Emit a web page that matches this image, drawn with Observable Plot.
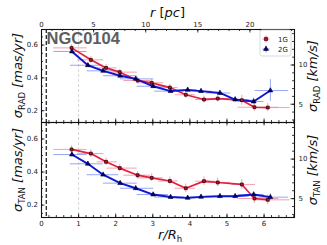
<!DOCTYPE html>
<html><head><meta charset="utf-8">
<script src="https://cdn.jsdelivr.net/npm/d3@7"></script>
<script src="https://cdn.jsdelivr.net/npm/@observablehq/plot@0.6"></script>
<style>
body{margin:0;background:#fff;}
#chart{position:relative;width:327px;height:245px;font-family:"DejaVu Sans",sans-serif;background:#fff;}
#chart svg{position:absolute;left:0;overflow:visible;background:transparent;}
</style></head><body><div id="chart"></div>
<script>
// ---- data ----
const r1G   = [0.81,1.33,1.74,2.11,2.59,2.97,3.46,3.89,4.38,4.75,5.40,5.74,6.10];
const lo1G  = [0.33,0.98,1.50,1.77,2.22,2.58,3.15,3.60,4.15,4.45,5.13,5.30,5.80];
const hi1G  = [1.23,1.68,2.04,2.58,2.94,3.29,3.68,4.15,4.69,5.10,5.77,6.40,6.70];
const rad1G = [0.583,0.510,0.461,0.435,0.384,0.370,0.341,0.297,0.268,0.274,0.264,0.221,0.219];
const radE1G= [0.020,0.022,0.020,0.018,0.020,0.020,0.020,0.022,0.022,0.022,0.030,0.025,0.025];
const tan1G = [0.537,0.512,0.462,0.424,0.381,0.365,0.346,0.302,0.345,0.337,0.325,0.240,0.232];
const tanE1G= [0.022,0.022,0.022,0.022,0.022,0.024,0.024,0.026,0.026,0.026,0.030,0.030,0.030];

const r2G   = [0.82,1.25,1.66,2.12,2.54,3.01,3.48,3.94,4.30,4.81,5.22,5.72,6.17];
const lo2G  = [0.33,0.78,1.23,1.67,2.13,2.58,3.05,3.65,4.00,4.45,4.95,5.30,5.76];
const hi2G  = [1.23,1.67,2.08,2.58,3.03,3.42,3.85,4.20,4.60,5.10,5.60,6.00,6.66];
const rad2G = [0.561,0.477,0.443,0.413,0.394,0.349,0.319,0.327,0.319,0.308,0.268,0.256,0.323];
const radE2G= [0.012,0.012,0.012,0.012,0.012,0.012,0.012,0.014,0.014,0.016,0.018,0.020,0.066];
const tan2G = [0.506,0.450,0.384,0.333,0.302,0.264,0.249,0.244,0.250,0.254,0.254,0.264,0.248];
const tanE2G= [0.010,0.010,0.010,0.010,0.010,0.010,0.010,0.012,0.012,0.014,0.014,0.016,0.020];

const groups = ["1G","2G"];
const clusterName = "NGC0104";
const xTicks = [0,1,2,3,4,5,6];
const yTicks = [0.2,0.4,0.6];
const kmTicks = [5,10];
const pcTicks = [0,5,10,15,20];
const Rh_pc = 3.56;      // half-light radius in pc
const KMS = 20.9;        // km/s per mas/yr
const rCore = 0.13;      // black dashed line
const rOne = 1;          // grey dashed line

// ---- helpers ----
const RED = "#e2203f", RED_E = "#f38a9c", BLUE = "#0d17d2", BLUE_E = "#8190f2";
const W = 327, ML = 41, MR = 33, innerW = W - ML - MR;
const xDomain = [0, 6.82];

function rows(r, lo, hi, v, e) { return r.map((d, i) => ({r: d, lo: lo[i], hi: hi[i], v: v[i], e: e[i]})); }

function inwardTicks(innerH, withTop) {
  const majL = 3.5, minL = 2;
  const xMinor = d3.range(0, 6.81, 0.2);
  const yMinor = d3.range(0.15, 0.70, 0.05);
  const kmMinor = d3.range(3, 15, 1).map(v => v / KMS);
  const st = {stroke: "#111", strokeWidth: 0.8};
  const m = [
    Plot.ruleX(xTicks, {...st, insetTop: innerH - majL}),
    Plot.ruleX(xMinor, {...st, insetTop: innerH - minL}),
    Plot.ruleY(yTicks, {...st, insetRight: innerW - majL}),
    Plot.ruleY(yMinor, {...st, insetRight: innerW - minL}),
    Plot.ruleY(kmTicks.map(v => v / KMS), {...st, insetLeft: innerW - majL}),
    Plot.ruleY(kmMinor, {...st, insetLeft: innerW - minL}),
  ];
  if (withTop) {
    m.push(Plot.ruleX(pcTicks.map(p => p / Rh_pc), {...st, insetBottom: innerH - majL}));
    m.push(Plot.ruleX(d3.range(0, 25, 1).map(p => p / Rh_pc).filter(x => x <= 6.82), {...st, insetBottom: innerH - minL}));
  } else {
    m.push(Plot.ruleX(xTicks, {...st, insetBottom: innerH - majL}));
    m.push(Plot.ruleX(xMinor, {...st, insetBottom: innerH - minL}));
  }
  return m;
}

function seriesMarks(d1, d2) {
  return [
    Plot.ruleY(d1, {y: "v", x1: "lo", x2: "hi", stroke: RED_E, strokeWidth: 1, strokeOpacity: 0.8}),
    Plot.ruleX(d1, {x: "r", y1: d => d.v - d.e, y2: d => d.v + d.e, stroke: RED_E, strokeWidth: 1, strokeOpacity: 0.8}),
    Plot.ruleY(d2, {y: "v", x1: "lo", x2: "hi", stroke: BLUE_E, strokeWidth: 1, strokeOpacity: 0.8}),
    Plot.ruleX(d2, {x: "r", y1: d => d.v - d.e, y2: d => d.v + d.e, stroke: BLUE_E, strokeWidth: 1, strokeOpacity: 0.8}),
    Plot.line(d1, {x: "r", y: "v", stroke: RED, strokeWidth: 1.7}),
    Plot.line(d2, {x: "r", y: "v", stroke: BLUE, strokeWidth: 1.9}),
    Plot.dot(d1, {x: "r", y: "v", symbol: "square", r: 1.6, fill: "#c8102e", stroke: "#2a0008", strokeWidth: 0.8}),
    Plot.dot(d2, {x: "r", y: "v", symbol: "triangle", r: 1.8, fill: "#000070", stroke: "#000030", strokeWidth: 0.6}),
  ];
}

function axisTitle(svg, x, y, rot, base, sub, rest) {
  const t = d3.select(svg).append("text")
    .attr("transform", `translate(${x},${y}) rotate(${rot})`)
    .attr("text-anchor", "middle")
    .attr("font-family", "DejaVu Sans, sans-serif")
    .attr("font-size", 13).attr("fill", "#111");
  t.append("tspan").attr("font-style", "italic").text(base);
  if (sub) t.append("tspan").attr("font-size", 8.5).attr("dy", 3).text(sub);
  t.append("tspan").attr("dy", sub ? -3 : 0).attr("font-style", "italic").text(rest);
  return t;
}

const chart = document.getElementById("chart");
const style = {fontFamily: "DejaVu Sans, sans-serif", fontSize: "7px", color: "#222", background: "transparent", overflow: "visible"};

// ---- top panel (RAD) ----
{
  const H = 122, MT = 29, MB = 0, innerH = H - MT - MB;
  const p = Plot.plot({
    width: W, height: H, marginTop: MT, marginBottom: MB, marginLeft: ML, marginRight: MR,
    x: {domain: xDomain}, y: {domain: [0.128, 0.695]}, style,
    marks: [
      Plot.ruleX([rOne], {stroke: "#d4d4d4", strokeWidth: 1, strokeDasharray: "3,2"}),
      Plot.ruleX([rCore], {stroke: "#333", strokeWidth: 1.4, strokeDasharray: "4,2"}),
      ...seriesMarks(rows(r1G, lo1G, hi1G, rad1G, radE1G), rows(r2G, lo2G, hi2G, rad2G, radE2G)),
      ...inwardTicks(innerH, true),
      Plot.frame({stroke: "#111", strokeWidth: 1.1}),
      Plot.axisX(pcTicks.map(p => p / Rh_pc), {anchor: "top", tickSize: 0, tickPadding: 3, tickFormat: d => Math.round(d * Rh_pc), label: null}),
      Plot.axisY(yTicks, {anchor: "left", tickSize: 0, tickPadding: 3.5, tickFormat: d3.format(".1f"), label: null}),
      Plot.axisY(kmTicks.map(v => v / KMS), {anchor: "right", tickSize: 0, tickPadding: 4, tickFormat: d => Math.round(d * KMS), label: null}),
    ]
  });
  p.style.top = "0px";
  chart.appendChild(p);
  const s = d3.select(p);
  s.append("text").attr("x", 46.5).attr("y", 44).attr("text-anchor", "start")
    .attr("font-family", "Liberation Sans, Arial, sans-serif")
    .attr("font-weight", "bold").attr("font-size", 16.5).attr("fill", "#5e5e5e").text(clusterName);
  const tt = s.append("text").attr("x", 167.5).attr("y", 17).attr("text-anchor", "middle")
    .attr("font-family", "DejaVu Sans, sans-serif").attr("font-size", 13).attr("fill", "#111");
  tt.append("tspan").attr("font-style", "italic").text("r");
  tt.append("tspan").text(" [");
  tt.append("tspan").attr("font-style", "italic").text("pc");
  tt.append("tspan").text("]");
  axisTitle(p, 22, 75.5, -90, "σ", "RAD", " [mas/yr]");
  axisTitle(p, 317, 76, -90, "σ", "RAD", " [km/s]");
  // legend
  const lg = s.append("g");
  lg.append("rect").attr("x", 260).attr("y", 30).attr("width", 31).attr("height", 26).attr("rx", 2)
    .attr("fill", "#fff").attr("stroke", "#d0d0d0").attr("stroke-width", 0.8);
  const items = [{g: groups[0], y: 39, c: RED_E, f: "#c8102e", s: "#2a0008", sym: d3.symbolSquare},
                 {g: groups[1], y: 49, c: BLUE_E, f: "#000070", s: "#000030", sym: d3.symbolTriangle}];
  for (const it of items) {
    lg.append("line").attr("x1", 262.5).attr("x2", 269.5).attr("y1", it.y).attr("y2", it.y).attr("stroke", it.c);
    lg.append("line").attr("x1", 266).attr("x2", 266).attr("y1", it.y - 3.5).attr("y2", it.y + 3.5).attr("stroke", it.c);
    lg.append("path").attr("transform", `translate(266,${it.y})`).attr("d", d3.symbol(it.sym, 10)())
      .attr("fill", it.f).attr("stroke", it.s).attr("stroke-width", 0.7);
    lg.append("text").attr("x", 278).attr("y", it.y + 2.5).attr("text-anchor", "start")
      .attr("font-size", 7).attr("fill", "#222")
      .attr("font-family", "DejaVu Sans, sans-serif").text(it.g);
  }
}

// ---- bottom panel (TAN) ----
{
  const H = 123, MT = 0, MB = 28, innerH = H - MT - MB;
  const p = Plot.plot({
    width: W, height: H, marginTop: MT, marginBottom: MB, marginLeft: ML, marginRight: MR,
    x: {domain: xDomain}, y: {domain: [0.125, 0.70]}, style,
    marks: [
      Plot.ruleX([rOne], {stroke: "#d4d4d4", strokeWidth: 1, strokeDasharray: "3,2"}),
      Plot.ruleX([rCore], {stroke: "#333", strokeWidth: 1.4, strokeDasharray: "4,2"}),
      ...seriesMarks(rows(r1G, lo1G, hi1G, tan1G, tanE1G), rows(r2G, lo2G, hi2G, tan2G, tanE2G)),
      ...inwardTicks(innerH, false),
      Plot.frame({stroke: "#111", strokeWidth: 1.1}),
      Plot.axisX(xTicks, {anchor: "bottom", tickSize: 0, tickPadding: 3.5, tickFormat: d => d, label: null}),
      Plot.axisY(yTicks, {anchor: "left", tickSize: 0, tickPadding: 3.5, tickFormat: d3.format(".1f"), label: null}),
      Plot.axisY(kmTicks.map(v => v / KMS), {anchor: "right", tickSize: 0, tickPadding: 4, tickFormat: d => Math.round(d * KMS), label: null}),
    ]
  });
  p.style.top = "122px";
  chart.appendChild(p);
  const s = d3.select(p);
  axisTitle(p, 22, 48, -90, "σ", "TAN", " [mas/yr]");
  axisTitle(p, 317, 48, -90, "σ", "TAN", " [km/s]");
  const bt = s.append("text").attr("x", 170).attr("y", 117).attr("text-anchor", "middle")
    .attr("font-family", "DejaVu Sans, sans-serif").attr("font-size", 13).attr("fill", "#111");
  bt.append("tspan").attr("font-style", "italic").text("r/R");
  bt.append("tspan").attr("font-size", 8.5).attr("dy", 3).text("h");
}
</script></body></html>
